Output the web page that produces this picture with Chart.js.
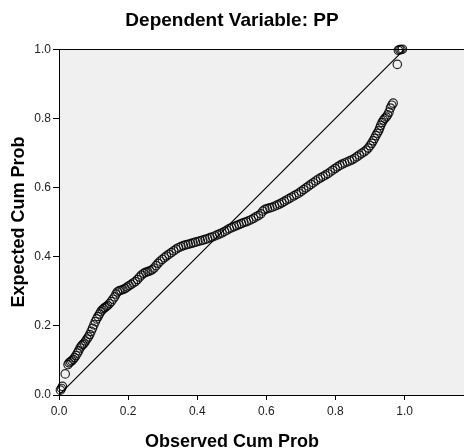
<!DOCTYPE html>
<html>
<head>
<meta charset="utf-8">
<script src="https://cdn.jsdelivr.net/npm/chart.js@4.4.1/dist/chart.umd.min.js"></script>
<style>
    body { margin: 0; background: #fff; }
    canvas { display: block; }
</style>
</head>
<body>
<canvas id="ppChart" width="464" height="448"></canvas>
<script>
// P-P plot values
var observedCumProb = [0.004,0.007,0.010,0.018,0.026,0.029,0.033,0.037,0.041,0.045,0.049,0.053,0.057,0.061,0.065,0.069,0.073,0.077,0.081,0.085,
    0.089,0.093,0.097,0.101,0.105,0.109,0.113,0.117,0.121,0.125,0.129,0.133,0.137,0.141,0.146,0.151,0.156,0.161,0.165,0.169,
    0.174,0.179,0.185,0.191,0.197,0.203,0.209,0.215,0.221,0.227,0.233,0.239,0.245,0.251,0.257,0.263,0.269,0.275,0.281,0.287,
    0.293,0.299,0.305,0.311,0.318,0.325,0.332,0.339,0.346,0.353,0.360,0.367,0.374,0.381,0.388,0.395,0.402,0.409,0.416,0.423,
    0.430,0.437,0.444,0.451,0.458,0.465,0.472,0.479,0.486,0.493,0.500,0.507,0.514,0.521,0.528,0.535,0.542,0.549,0.556,0.563,
    0.570,0.577,0.584,0.590,0.596,0.603,0.610,0.617,0.624,0.631,0.638,0.645,0.652,0.659,0.666,0.673,0.680,0.687,0.694,0.701,
    0.708,0.715,0.722,0.729,0.736,0.743,0.750,0.757,0.764,0.771,0.778,0.785,0.792,0.799,0.806,0.813,0.820,0.827,0.834,0.841,
    0.848,0.855,0.862,0.869,0.876,0.883,0.889,0.895,0.900,0.905,0.909,0.913,0.917,0.921,0.925,0.928,0.931,0.935,0.939,0.943,
    0.947,0.951,0.955,0.959,0.963,0.967,0.979,0.982,0.986,0.990,0.994];
var expectedCumProb = [0.014,0.019,0.025,0.061,0.088,0.093,0.096,0.099,0.103,0.108,0.114,0.121,0.128,0.136,0.142,0.146,0.150,0.156,0.162,0.168,
    0.175,0.184,0.193,0.203,0.212,0.220,0.227,0.234,0.241,0.246,0.250,0.253,0.256,0.259,0.264,0.270,0.277,0.284,0.292,0.298,
    0.301,0.303,0.305,0.308,0.312,0.316,0.320,0.324,0.328,0.334,0.341,0.347,0.352,0.355,0.357,0.359,0.362,0.367,0.374,0.381,
    0.387,0.392,0.397,0.402,0.407,0.412,0.417,0.422,0.426,0.429,0.432,0.434,0.436,0.438,0.440,0.442,0.444,0.446,0.448,0.450,
    0.452,0.455,0.457,0.460,0.463,0.466,0.469,0.473,0.477,0.481,0.484,0.487,0.490,0.493,0.496,0.499,0.501,0.504,0.507,0.511,
    0.515,0.519,0.524,0.532,0.537,0.539,0.541,0.543,0.546,0.549,0.552,0.556,0.560,0.564,0.568,0.572,0.576,0.580,0.584,0.589,
    0.594,0.599,0.604,0.609,0.614,0.619,0.624,0.628,0.632,0.636,0.640,0.645,0.650,0.655,0.660,0.664,0.668,0.671,0.674,0.677,
    0.680,0.684,0.689,0.694,0.699,0.703,0.708,0.714,0.721,0.728,0.735,0.742,0.750,0.757,0.764,0.772,0.780,0.788,0.795,0.800,
    0.804,0.810,0.818,0.830,0.838,0.844,0.956,0.997,0.999,0.999,1.000];
// reference diagonal
var diagX = [0, 1];
var diagY = [0, 1];
var xTickMax = 1.172;

var fontFamily = "'Liberation Sans', Arial, sans-serif";

function toPoints(xs, ys) {
    var pts = [];
    for (var i = 0; i < xs.length; i++) {
        pts.push({x: xs[i], y: ys[i]});
    }
    return pts;
}

// grey plot background and top frame line
var plotFrame = {
    id: 'plotFrame',
    beforeDatasetsDraw: function (chart) {
        var ctx = chart.ctx, a = chart.chartArea;
        ctx.save();
        ctx.strokeStyle = '#000';
        ctx.lineWidth = 1;
        ctx.beginPath();
        ctx.moveTo(a.left, Math.round(a.top) + 0.5);
        ctx.lineTo(chart.width, Math.round(a.top) + 0.5);
        ctx.stroke();
        ctx.restore();
    },
    beforeDraw: function (chart) {
        var ctx = chart.ctx, a = chart.chartArea;
        ctx.save();
        ctx.fillStyle = '#f0f0f0';
        ctx.fillRect(a.left, a.top, chart.width - a.left, a.bottom - a.top);
        ctx.restore();
    }
};

var ctx = document.getElementById('ppChart').getContext('2d');
new Chart(ctx, {
    type: 'scatter',
    data: {
        datasets: [
            {
                type: 'line',
                data: toPoints(diagX, diagY),
                borderColor: '#000',
                borderWidth: 1.2,
                pointRadius: 0,
                fill: false
            },
            {
                data: toPoints(observedCumProb, expectedCumProb),
                pointStyle: 'circle',
                pointRadius: 4.2,
                pointBorderWidth: 1.2,
                pointBorderColor: 'rgba(0,0,0,0.85)',
                pointBackgroundColor: 'rgba(0,0,0,0)',
                clip: false
            }
        ]
    },
    plugins: [plotFrame],
    options: {
        responsive: false,
        animation: false,
        events: [],
        layout: { padding: 0, autoPadding: false },
        plugins: {
            legend: { display: false },
            tooltip: { enabled: false },
            title: {
                display: true,
                text: 'Dependent Variable: PP',
                color: '#000',
                font: { family: fontFamily, size: 19, weight: 'bold' },
                padding: { top: 9, bottom: 17.4 }
            },
            // x axis title, centred on the whole picture like the original
            subtitle: {
                display: true,
                position: 'bottom',
                text: 'Observed Cum Prob',
                color: '#000',
                font: { family: fontFamily, size: 18, weight: 'bold', lineHeight: 1 },
                padding: { top: 0, bottom: -3 }
            }
        },
        scales: {
            x: {
                type: 'linear',
                min: 0,
                max: xTickMax,
                afterFit: function (scale) {
                    scale.height = 38;
                    scale.paddingLeft = 0;
                    scale.paddingRight = 0;
                },
                border: { color: '#000', width: 1 },
                grid: { drawOnChartArea: false, drawTicks: true, tickLength: 5, color: '#000' },
                ticks: {
                    stepSize: 0.2,
                    includeBounds: false,
                    padding: 4,
                    color: '#222',
                    font: { family: fontFamily, size: 12 },
                    callback: function (v) { return v.toFixed(1); }
                }
            },
            y: {
                type: 'linear',
                min: 0,
                max: 1,
                afterFit: function (scale) { scale.width = 59; },
                border: { color: '#000', width: 1 },
                grid: { drawOnChartArea: false, drawTicks: true, tickLength: 6, color: '#000' },
                ticks: {
                    stepSize: 0.2,
                    padding: 2,
                    color: '#222',
                    font: { family: fontFamily, size: 12 },
                    callback: function (v) { return v.toFixed(1); }
                },
                title: {
                    display: true,
                    text: 'Expected Cum Prob',
                    color: '#000',
                    font: { family: fontFamily, size: 18, weight: 'bold' },
                    padding: { top: 8, bottom: 0 }
                }
            }
        }
    }
});
</script>
</body>
</html>
